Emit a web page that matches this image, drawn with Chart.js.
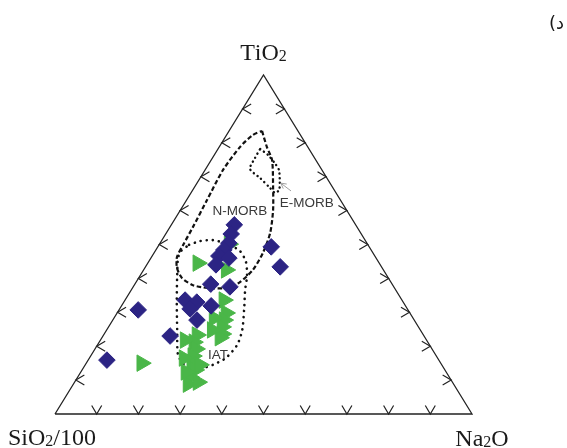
<!DOCTYPE html>
<html>
<head>
<meta charset="utf-8">
<script src="https://cdn.jsdelivr.net/npm/chart.js@4.4.1/dist/chart.umd.min.js"></script>
<style>
  html, body { margin: 0; padding: 0; background: #fff; }
  canvas { display: block; }
</style>
</head>
<body>
<canvas id="ternary" width="567" height="448"></canvas>
<script>
// TiO2 - SiO2/100 - Na2O ternary, values normalised to 100

// diamond samples
const diamondTi = [55.8, 53.1, 50.4, 48.4, 46.6, 46.0, 44.0, 49.3, 43.4, 38.3, 37.5, 33.6, 33.0, 31.9, 31.0, 27.7, 30.7, 23.0, 15.9];
const diamondSi = [29.1, 31.2, 33.1, 35.3, 37.4, 35.3, 39.4, 23.5, 24.3, 43.5, 39.3, 52.0, 49.5, 46.6, 52.1, 52.1, 64.7, 60.9, 79.6];
const diamondNa = [15.1, 15.7, 16.5, 16.3, 16.0, 18.7, 16.6, 27.2, 32.3, 18.2, 23.2, 14.4, 17.5, 21.5, 16.9, 20.2, 4.6, 16.1, 4.5];

// triangle samples
const triangleTi = [44.5, 50.1, 42.5, 33.6, 15.0, 29.8, 27.7, 25.7, 23.6, 22.5, 23.3, 21.2, 19.2, 17.1, 15.0, 13.0, 10.9, 8.8, 14.5, 28.3, 24.8, 21.8, 16.5, 12.4, 9.4];
const triangleSi = [43.5, 33.2, 37.7, 42.7, 71.7, 44.1, 45.6, 47.1, 48.1, 49.2, 54.3, 56.1, 56.6, 58.4, 59.7, 59.9, 62.2, 63.7, 58.0, 47.7, 49.9, 57.9, 60.8, 62.4, 61.0];
const triangleNa = [12.0, 16.7, 19.8, 23.7, 13.3, 26.1, 26.7, 27.2, 28.3, 28.3, 22.4, 22.7, 24.2, 24.5, 25.3, 27.1, 26.9, 27.5, 27.5, 24.0, 25.3, 20.3, 22.7, 25.2, 29.6];

// field boundaries as [TiO2, SiO2/100, Na2O]
const nMorbField = [
  [83.5, 8.6, 7.9], [78.8, 9.8, 11.4], [74.9, 10.5, 14.6], [67.0, 14.2, 18.8],
  [60.2, 17.6, 22.2], [53.4, 21.7, 24.9], [47.5, 26.4, 26.1], [42.5, 31.3, 26.2],
  [38.9, 36.2, 24.9], [37.2, 40.1, 22.7], [37.2, 44.9, 17.9], [38.0, 47.9, 14.1],
  [40.1, 49.5, 10.4], [43.1, 49.2, 7.7], [46.3, 47.6, 6.1], [49.8, 44.4, 5.8],
  [55.2, 39.3, 5.5], [63.1, 32.0, 4.9], [72.0, 23.7, 4.3], [78.8, 16.2, 5.0],
  [82.3, 11.4, 6.3], [83.5, 8.6, 7.9]
];
const eMorbField = [
  [78.2, 11.7, 10.1], [76.4, 10.7, 12.9], [74.0, 10.3, 15.7], [72.0, 10.3, 17.7],
  [68.4, 11.9, 19.7], [66.1, 13.2, 20.7], [65.2, 14.6, 20.2], [66.7, 15.1, 18.2],
  [69.6, 16.0, 14.4], [72.3, 17.1, 10.6], [75.5, 14.3, 10.2], [78.2, 11.7, 10.1]
];
const iatField = [
  [49.9, 42.9, 7.2], [51.0, 39.7, 9.3], [51.3, 36.5, 12.2], [50.1, 33.5, 16.4],
  [48.1, 31.6, 20.3], [44.8, 31.8, 23.4], [40.7, 33.6, 25.7], [36.6, 36.1, 27.3],
  [30.7, 39.3, 30.0], [24.8, 42.7, 32.5], [20.4, 46.1, 33.5], [16.5, 50.8, 32.7],
  [14.5, 54.9, 30.6], [13.6, 57.7, 28.7], [13.6, 60.1, 26.3], [14.7, 61.7, 23.6],
  [17.4, 61.8, 20.8], [24.8, 58.3, 16.9], [33.6, 54.0, 12.4], [41.0, 50.2, 8.8],
  [46.0, 47.5, 6.5], [48.1, 45.7, 6.2], [49.9, 42.9, 7.2]
];

// field names and where they sit
const fieldLabels = ['N-MORB', 'E-MORB', 'IAT'];
const fieldLabelAt = [[59.9, 25.7, 14.4], [62.2, 8.5, 29.3], [17.4, 52.2, 30.4]];
const eMorbPointer = [[65.8, 10.5, 23.7], [68.1, 11.8, 20.1]];

const tickSteps = [10, 20, 30, 40, 50, 60, 70, 80, 90];

// composition -> cartesian (Na2O to the right, TiO2 up)
function toXY(ti, si, na) {
  const sum = ti + si + na;
  const t = ti / sum, n = na / sum;
  return { x: n + t / 2, y: t };
}
const toPoints = (ti, si, na) => ti.map((v, i) => toXY(v, si[i], na[i]));
const fieldPoints = f => f.map(p => toXY(p[0], p[1], p[2]));

const frame = [toXY(0, 100, 0), toXY(0, 0, 100), toXY(100, 0, 0), toXY(0, 100, 0)];

// draws "TiO2" style labels with the digit after a letter set smaller
function drawFormula(ctx, text, x, y, align) {
  const parts = [];
  for (let i = 0; i < text.length; i++) {
    const ch = text[i];
    const sub = /[0-9]/.test(ch) && i > 0 && /[A-Za-z]/.test(text[i - 1]);
    parts.push({ ch, sub });
  }
  const big = '24px "Liberation Serif", "Times New Roman", serif';
  const small = '16px "Liberation Serif", "Times New Roman", serif';
  let width = 0;
  parts.forEach(p => { ctx.font = p.sub ? small : big; p.w = ctx.measureText(p.ch).width; width += p.w; });
  let cx = align === 'center' ? x - width / 2 : x;
  ctx.textAlign = 'left';
  ctx.textBaseline = 'alphabetic';
  parts.forEach(p => {
    ctx.font = p.sub ? small : big;
    ctx.fillText(p.ch, cx, p.sub ? y + 1 : y);
    cx += p.w;
  });
}

const ternaryFrame = {
  id: 'ternaryFrame',
  beforeDatasetsDraw(chart) {
    const { ctx, scales: { x, y } } = chart;
    const px = p => [x.getPixelForValue(p.x), y.getPixelForValue(p.y)];
    const chevron = (at, arms) => {
      ctx.beginPath();
      ctx.moveTo(at[0] + arms[0][0], at[1] + arms[0][1]);
      ctx.lineTo(at[0], at[1]);
      ctx.lineTo(at[0] + arms[1][0], at[1] + arms[1][1]);
      ctx.stroke();
    };
    ctx.save();
    ctx.strokeStyle = '#222';
    ctx.lineWidth = 1.2;
    tickSteps.forEach(s => {
      chevron(px(toXY(0, 100 - s, s)), [[-5, -8.5], [5, -8.5]]);
      chevron(px(toXY(s, 100 - s, 0)), [[8.5, -5], [8.5, 5]]);
      chevron(px(toXY(s, 0, 100 - s)), [[-8.5, -5], [-8.5, 5]]);
    });
    ctx.restore();
  },
  afterDatasetsDraw(chart) {
    const { ctx, scales: { x, y } } = chart;
    const px = c => { const p = toXY(c[0], c[1], c[2]); return [x.getPixelForValue(p.x), y.getPixelForValue(p.y)]; };
    ctx.save();

    // pointer from the E-MORB label to its field
    const tail = px(eMorbPointer[0]), tip = px(eMorbPointer[1]);
    const ang = Math.atan2(tip[1] - tail[1], tip[0] - tail[0]);
    ctx.strokeStyle = '#a0a0a0';
    ctx.lineWidth = 1;
    ctx.beginPath();
    ctx.moveTo(tail[0], tail[1]);
    ctx.lineTo(tip[0], tip[1]);
    ctx.moveTo(tip[0] - 6 * Math.cos(ang - 0.5), tip[1] - 6 * Math.sin(ang - 0.5));
    ctx.lineTo(tip[0], tip[1]);
    ctx.lineTo(tip[0] - 6 * Math.cos(ang + 0.5), tip[1] - 6 * Math.sin(ang + 0.5));
    ctx.stroke();

    // field names
    ctx.fillStyle = '#3a3a3a';
    ctx.font = '13.5px "Liberation Sans", Arial, sans-serif';
    ctx.textAlign = 'center';
    ctx.textBaseline = 'middle';
    fieldLabels.forEach((t, i) => {
      const p = px(fieldLabelAt[i]);
      ctx.fillText(t, p[0], p[1]);
    });

    // apex names
    ctx.fillStyle = '#1a1a1a';
    const top = px([100, 0, 0]), left = px([0, 100, 0]), right = px([0, 0, 100]);
    drawFormula(ctx, 'TiO2', top[0], top[1] - 15, 'center');
    drawFormula(ctx, 'SiO2/100', left[0] - 47, left[1] + 31, 'left');
    drawFormula(ctx, 'Na2O', right[0] + 10, right[1] + 32, 'center');

    // panel letter
    ctx.font = '18px "DejaVu Sans", "Noto Sans", sans-serif';
    ctx.textAlign = 'right';
    ctx.textBaseline = 'alphabetic';
    ctx.fillText('(د', 564, 29);
    ctx.restore();
  }
};

new Chart(document.getElementById('ternary'), {
  type: 'scatter',
  data: {
    datasets: [
      {
        label: 'diamonds',
        data: toPoints(diamondTi, diamondSi, diamondNa),
        pointStyle: 'rectRot',
        pointRadius: 8.3,
        backgroundColor: '#2c2484',
        borderColor: '#2c2484',
        borderWidth: 1,
        clip: false
      },
      {
        label: 'triangles',
        data: toPoints(triangleTi, triangleSi, triangleNa),
        pointStyle: 'triangle',
        pointRotation: 90,
        pointRadius: 9.5,
        backgroundColor: '#4ab648',
        borderColor: '#4ab648',
        borderWidth: 1,
        clip: false
      },
      {
        label: 'N-MORB',
        data: fieldPoints(nMorbField),
        showLine: true,
        pointRadius: 0,
        borderColor: '#111',
        borderWidth: 2.2,
        borderDash: [4.5, 2.5],
        tension: 0.25,
        clip: false
      },
      {
        label: 'E-MORB',
        data: fieldPoints(eMorbField),
        showLine: true,
        pointRadius: 0,
        borderColor: '#111',
        borderWidth: 2.4,
        borderDash: [0.1, 4.5],
        borderCapStyle: 'round',
        tension: 0.25,
        clip: false
      },
      {
        label: 'IAT',
        data: fieldPoints(iatField),
        showLine: true,
        pointRadius: 0,
        borderColor: '#111',
        borderWidth: 2.6,
        borderDash: [0.1, 6],
        borderCapStyle: 'round',
        tension: 0.25,
        clip: false
      },
      {
        label: 'frame',
        data: frame,
        showLine: true,
        pointRadius: 0,
        borderColor: '#222',
        borderWidth: 1.3,
        clip: false
      }
    ]
  },
  options: {
    responsive: false,
    animation: false,
    devicePixelRatio: 1,
    events: [],
    layout: { padding: { left: 55, right: 95, top: 75, bottom: 34 } },
    plugins: { legend: { display: false }, tooltip: { enabled: false } },
    scales: {
      x: { type: 'linear', min: 0, max: 1, display: false },
      y: { type: 'linear', min: 0, max: 1, display: false }
    }
  },
  plugins: [ternaryFrame]
});
</script>
</body>
</html>
